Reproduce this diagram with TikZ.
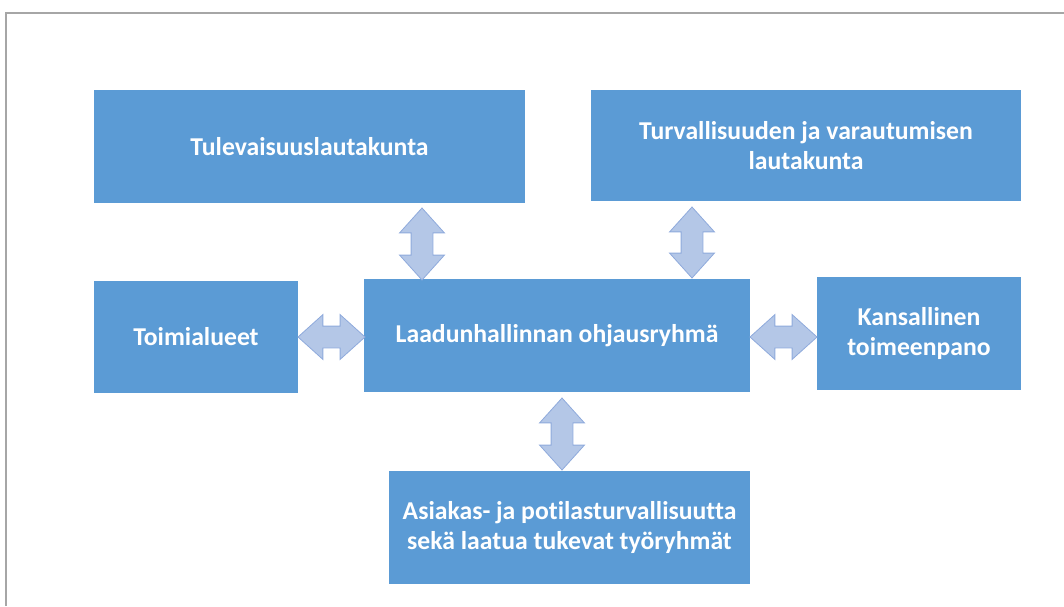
\documentclass[tikz,border=0pt]{standalone}
\usepackage{fontspec}
\setmainfont{Carlito}[Ligatures=NoCommon]
\usetikzlibrary{shapes.arrows,positioning}

\definecolor{boxblue}{HTML}{5B9BD5}
\definecolor{arrfill}{HTML}{B4C7E7}
\definecolor{arrline}{HTML}{8FAADC}
\definecolor{framegray}{HTML}{A6A6A6}

\tikzset{
  unit/.style={rectangle, fill=boxblue, text=white, inner sep=0pt, align=center,
    font=\bfseries\fontsize{25.7}{30}\selectfont},
  fatarrow/.style={double arrow, fill=arrfill, draw=arrline, line width=0.8pt,
    inner xsep=0pt, inner ysep=10.5pt, minimum width=44pt,
    double arrow head extend=11.5pt, double arrow tip angle=84},
}

\begin{document}
\begin{tikzpicture}[x=1pt,y=-1pt]
  \useasboundingbox (0,0) rectangle (1064,606);
  % frame
  \draw[framegray, line width=1.5pt] (6,606) -- (6,13) -- (1064,13);

  % boxes
  \node[unit, minimum width=431pt, minimum height=113pt] (tul) at (309.5,146.5) {Tulevaisuuslautakunta};
  \node[unit, minimum width=430pt, minimum height=111pt] (tur) at (806,145.5) {Turvallisuuden ja varautumisen\\lautakunta};
  \node[unit, minimum width=204pt, minimum height=112pt] (toi) at (196,337) {Toimialueet};
  \node[unit, minimum width=386pt, minimum height=113pt] (laa) at (557,335.5) {Laadunhallinnan ohjausryhmä};
  \node[unit, minimum width=204pt, minimum height=113pt] (kan) at (919,333.5) {Kansallinen\\toimeenpano};
  \node[unit, minimum width=361pt, minimum height=113pt] (asi) at (569.5,527.5) {Asiakas- ja potilasturvallisuutta\\sekä laatua tukevat työryhmät};

  % arrows
  \node[fatarrow, rotate=90, minimum height=72pt] (tul-laa) at (422,244) {};
  \node[fatarrow, rotate=90, minimum height=71pt] (tur-laa) at (692,242.5) {};
  \node[fatarrow, minimum height=67pt] (toi-laa) at (331.5,337) {};
  \node[fatarrow, minimum height=67pt] (laa-kan) at (783.5,337) {};
  \node[fatarrow, rotate=90, minimum height=72pt] (laa-asi) at (562,434) {};
\end{tikzpicture}
\end{document}
